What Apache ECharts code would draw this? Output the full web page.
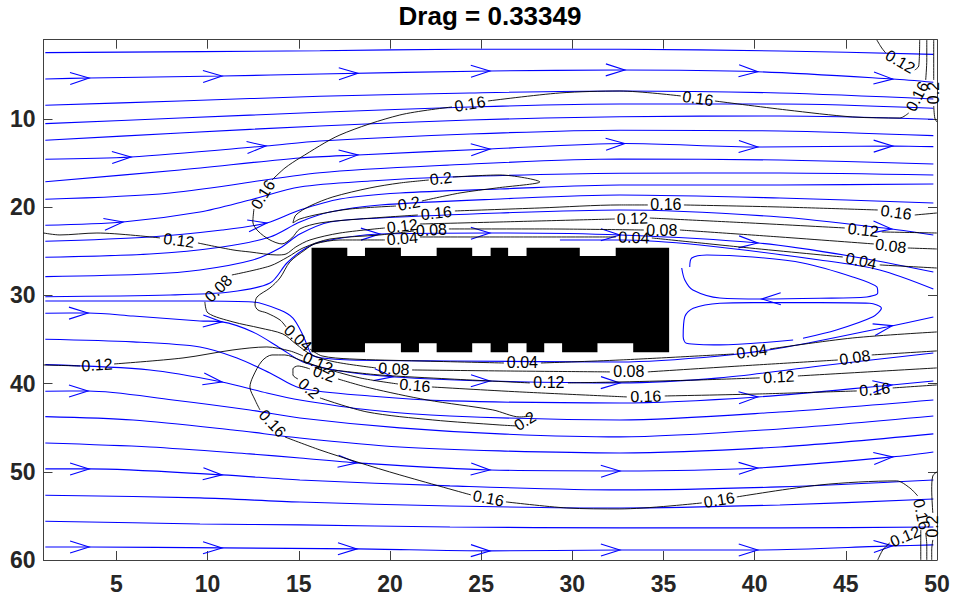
<!DOCTYPE html>
<html>
<head>
<meta charset="utf-8">
<script src="https://cdn.jsdelivr.net/npm/echarts@6/dist/echarts.min.js"></script>
<style>
  html, body { margin: 0; padding: 0; background: #fff; }
  #chart { width: 954px; height: 600px; }
</style>
</head>
<body>
<div id="chart"></div>
<script>
const FONT = '"Liberation Sans", Arial, Helvetica, sans-serif';

// Axis ticks
const xTicks = [5, 10, 15, 20, 25, 30, 35, 40, 45, 50];
const yTicks = [10, 20, 30, 40, 50, 60];
const titleText = 'Drag = 0.33349';

// Streamlines above the body, [x, y] in grid units (y grows downward)
const streamUpper = [
  [[1.1,2.47],[16.16,2.25],[23.84,2.09],[32.61,2.09],[41.38,2.28],[49.8,2.66]],
  [[1.1,5.46],[3.5,5.34],[10.79,5.12],[16.16,4.89],[25.48,4.55],[32.61,4.44],[40.12,4.63],[47.57,5.46],[49.8,5.83]],
  [[1.1,8.44],[8.48,7.95],[16.16,7.42],[24.38,7.04],[32.61,6.82],[41.38,7.04],[49.8,7.72]],
  [[1.1,10.52],[8.48,9.88],[16.16,9.23],[24.38,8.63],[32.61,8.29],[41.38,8.29],[49.8,8.78]],
  [[1.1,12.41],[8.48,11.58],[16.16,10.78],[24.38,10.10],[32.61,9.73],[41.38,9.65],[49.8,10.02]],
  [[1.1,14.56],[5.80,14.30],[13.20,13.05],[16.16,12.49],[24.38,11.69],[32.61,11.26],[41.38,11.35],[49.8,11.88]],
  [[1.1,17.10],[8.48,15.77],[15.06,14.41],[18.24,14.07],[25.48,13.39],[32.88,12.77],[40.17,13.17],[47.57,13.05],[49.8,13.13]],
  [[1.1,19.09],[7.94,18.38],[16.16,16.08],[23.29,15.21],[32.61,14.53],[41.38,14.64],[49.8,15.09]],
  [[1.1,22.04],[5.36,21.67],[9.58,20.54],[12.32,19.17],[15.06,17.70],[18.90,17.02],[23.29,16.57],[32.61,16.15],[41.38,16.11],[49.8,16.34]],
  [[1.1,23.86],[6.84,23.37],[10.79,22.58],[13.25,21.78],[15.06,20.31],[17.26,19.06],[20.54,18.38],[26.03,17.93],[32.61,17.47],[41.38,17.47],[49.8,17.36]],
  [[1.1,25.67],[6.84,25.30],[10.79,24.50],[13.42,23.37],[15.06,21.67],[16.71,20.54],[19.45,19.74],[26.03,19.06],[32.61,18.61],[41.38,18.95],[49.8,19.51]],
  [[1.1,27.87],[6.84,27.57],[9.58,27.11],[12.48,25.98],[13.97,24.62],[15.06,23.03],[16.71,21.67],[19.45,21.22],[26.03,20.65],[32.61,20.31],[41.38,21.10],[47.52,22.46],[49.8,23.14]],
  [[1.1,30.14],[7.94,29.95],[11.22,29.61],[13.42,28.59],[14.35,26.32],[15.23,24.84],[16.16,23.94],[19.45,23.03],[25.48,22.92],[32.61,23.14],[40.17,24.05],[45.22,25.52],[49.8,27.34]],
  [[29.32,23.71],[32.61,23.71],[37.0,24.28],[43.57,25.98],[46.86,27.11],[49.8,29.27]]
];

// Recirculation behind the body
const wakeLoops = [
  [[36.44,26.77],[36.55,25.75],[37.38,25.41],[39.90,25.64],[42.64,26.32],[45.38,27.90],[46.70,29.04],[46.75,29.72],[46.15,30.17],[43.57,30.32],[40.39,30.40],[38.09,30.29],[36.61,29.38],[36.17,28.25],[36.0,26.89]],
  [[42.65,34.85],[44.48,33.91],[46.49,32.41],[46.95,31.45],[46.31,30.89],[43.57,30.82],[39.92,30.82],[38.09,30.89],[36.63,31.45],[36.17,32.41],[36.08,34.67],[36.26,35.42],[38.09,35.61],[42.11,35.05]]
];

// Streamlines below the body
const streamLower = [
  [[1.1,30.63],[9.58,30.63],[12.48,30.74],[13.97,31.65],[14.68,32.56],[15.17,34.25],[15.45,35.61],[15.72,36.75],[16.27,37.09],[17.80,37.32],[23.29,37.43],[32.61,37.54],[38.09,36.86],[41.76,35.84],[47.25,33.57],[49.8,32.44]],
  [[1.1,32.02],[3.44,31.99],[5.91,32.33],[9.58,32.89],[10.79,33.0],[12.48,34.14],[13.97,35.95],[15.23,37.54],[17.26,38.56],[20.27,39.24],[25.48,39.70],[32.61,39.92],[38.09,39.35],[43.57,38.0],[49.8,36.52]],
  [[1.1,34.97],[5.91,35.27],[9.58,35.84],[11.61,37.09],[13.42,38.79],[15.06,40.49],[18.90,41.40],[23.29,41.96],[32.61,42.19],[40.17,41.51],[47.52,40.15],[49.8,39.70]],
  [[1.1,37.85],[6.84,38.45],[10.79,39.81],[13.25,41.06],[15.06,41.85],[18.90,42.99],[23.29,43.67],[32.61,44.12],[41.38,43.22],[49.8,41.85]],
  [[1.1,40.86],[3.44,40.83],[8.10,41.85],[12.32,42.99],[15.06,43.89],[20.54,45.02],[26.03,45.70],[32.61,46.04],[41.38,45.14],[49.8,43.67]],
  [[1.1,43.74],[5.91,44.12],[11.39,45.25],[15.06,46.16],[20.54,47.18],[26.03,47.63],[32.61,47.86],[41.38,47.18],[49.8,45.70]],
  [[1.1,46.73],[6.84,47.18],[12.32,47.97],[15.06,48.43],[18.19,48.99],[25.48,49.79],[32.61,49.90],[40.17,49.56],[47.57,48.31],[49.8,47.75]],
  [[1.1,49.67],[3.50,49.67],[10.79,50.35],[15.06,50.92],[23.29,51.60],[32.61,52.05],[41.38,51.71],[49.8,50.92]],
  [[1.1,52.66],[9.58,52.96],[15.06,53.43],[23.29,53.87],[32.61,54.10],[41.38,53.76],[49.8,53.08]],
  [[1.1,55.60],[9.58,55.91],[15.06,56.02],[23.29,56.25],[32.61,56.36],[41.38,56.36],[49.8,56.25]],
  [[1.1,58.52],[3.50,58.52],[10.79,58.63],[18.19,58.74],[25.48,58.97],[32.61,58.86],[40.17,58.86],[47.57,58.40],[49.8,58.29]]
];

// Direction arrows, placed near these points on the nearest streamline
const arrowSeeds = [
  [3.50,5.34],[10.79,5.12],[18.24,4.78],[25.48,4.55],[32.88,4.44],[40.17,4.63],[47.57,5.46],
  [5.80,14.30],[13.20,13.05],[18.24,14.07],[25.48,13.17],[32.88,12.77],[40.17,13.17],[47.57,12.94],
  [5.36,21.67],[13.25,21.78],[19.45,22.92],[25.48,22.92],[32.61,23.14],[40.17,24.05],[47.52,22.46],
  [3.44,31.99],[10.79,33.0],[40.39,30.40],[47.57,33.57],
  [3.44,40.83],[10.79,39.81],[20.16,39.35],[25.48,39.92],[32.61,40.15],[40.17,41.51],[47.52,40.15],
  [3.50,49.67],[10.79,50.35],[18.19,48.99],[25.48,49.79],[32.61,49.79],[40.17,49.56],[47.57,48.31],
  [3.50,58.52],[10.79,58.63],[18.19,58.74],[25.48,58.97],[32.61,58.86],[40.17,58.86],[47.57,58.40]
];

// Solid body outline (notched top and bottom walls)
const obstacleOutline = [
  [15.70,24.58],[17.66,24.58],[17.66,25.52],[18.63,25.52],[18.63,24.58],[20.60,24.58],[20.60,25.52],[22.56,25.52],[22.56,24.58],
  [24.51,24.58],[24.51,25.52],[25.52,25.52],[25.52,24.58],[26.48,24.58],[26.48,25.52],[27.49,25.52],[27.49,24.58],
  [30.41,24.58],[30.41,25.52],[32.38,25.52],[32.38,24.58],[35.31,24.58],
  [35.31,36.44],[33.34,36.44],[33.34,35.42],[31.38,35.42],[31.38,36.44],[29.44,36.44],[29.44,35.42],[28.46,35.42],[28.46,36.44],
  [27.49,36.44],[27.49,35.42],[26.48,35.42],[26.48,36.44],[25.52,36.44],[25.52,35.42],[24.51,35.42],[24.51,36.44],
  [22.56,36.44],[22.56,35.42],[21.59,35.42],[21.59,36.44],[20.60,36.44],[20.60,35.42],[18.63,35.42],[18.63,36.44],[15.70,36.44]
];

// Speed contours: each level is a list of pieces, a label sits in every gap between pieces
const level004 = [
  [[49.99,26.89],[46.86,26.54]],
  [[44.83,25.64],[39.73,24.62],[34.36,23.48]],
  [[32.39,23.37],[26.03,23.37],[21.64,23.37]],
  [[19.72,23.71],[17.26,23.71],[15.88,24.16],[15.34,24.84],[14.51,26.20],[13.97,28.02],[13.42,29.15],[12.71,30.17],[12.60,31.08],[12.76,31.65],[13.25,31.99],[13.97,32.78],[14.30,33.57]],
  [[15.61,36.07],[16.27,36.86],[17.80,37.20],[21.64,37.43],[26.25,37.66]],
  [[28.28,37.66],[32.61,37.32],[38.86,36.64]],
  [[40.83,36.07],[45.38,34.82],[49.99,34.14]]
];
const level008 = [
  [[49.99,24.73],[48.40,24.62]],
  [[46.53,24.16],[41.38,23.37],[35.90,22.58]],
  [[33.92,22.58],[28.22,22.46],[23.23,22.46]],
  [[21.31,22.69],[19.45,23.14],[16.71,23.60],[15.23,24.62],[14.40,25.64],[13.42,26.66],[11.33,27.68]],
  [[9.85,30.74],[10.02,31.99],[11.39,33.0],[12.87,33.69],[14.13,34.37],[14.84,35.50],[15.72,36.75],[16.98,37.54],[19.23,38.22]],
  [[21.21,38.45],[26.03,38.56],[32.06,38.67]],
  [[34.14,38.67],[39.18,38.0],[44.56,37.32]],
  [[46.42,36.75],[49.99,36.29]]
];
const level012Upper = [
  [[1.0,22.92],[1.90,23.14],[3.93,22.92],[7.39,23.48]],
  [[9.47,24.05],[11.39,24.84],[12.32,25.07],[13.80,25.41],[14.30,25.30],[14.84,24.50],[15.61,23.71],[17.26,22.92],[19.72,22.35]],
  [[21.64,21.90],[26.03,21.67],[32.33,21.33]],
  [[34.25,21.22],[39.73,21.78],[44.94,22.35]],
  [[46.97,22.80],[49.99,22.92]]
];
const level012Lower = [
  [[1.0,37.88],[3.0,38.0]],
  [[4.87,37.77],[8.65,37.09],[11.39,36.18],[13.25,35.84],[14.51,36.29],[15.23,36.86]],
  [[16.87,38.45],[19.45,39.02],[23.29,39.47],[27.67,39.92]],
  [[29.76,39.92],[32.61,39.81],[37.0,39.58],[40.28,39.35]],
  [[42.37,39.13],[49.99,38.22]]
];
const level012TopRight = [
  [[46.70,1.03],[46.97,1.94],[47.19,2.51]],
  [[48.78,4.44],[49.0,3.98],[49.05,1.03]]
];
const level012BottomRight = [
  [[46.75,59.99],[47.03,58.86],[47.41,58.06]],
  [[49.11,56.59],[49.11,58.29],[49.11,59.99]]
];
const level016Upper = [
  [[49.44,1.03],[49.44,3.30],[49.38,5.57]],
  [[48.45,9.31],[47.96,9.88],[45.38,9.76],[41.76,8.97],[37.82,7.95]],
  [[35.95,7.38],[32.61,6.82],[29.32,7.04],[25.37,7.95]],
  [[23.40,8.63],[20.54,9.54],[17.26,11.80],[15.06,14.41],[14.24,15.55],[13.53,16.91]],
  [[12.54,20.20],[12.48,21.67],[12.76,22.69],[13.42,23.71],[14.08,24.16],[14.62,23.48],[15.06,22.46],[16.16,21.78],[18.35,21.33],[21.53,20.88]],
  [[23.56,20.42],[28.22,20.08],[32.61,19.74],[34.14,19.74]],
  [[36.12,19.74],[41.38,19.97],[46.75,20.31]],
  [[48.78,20.88],[49.99,20.65]]
];
const level016Lower = [
  [[49.99,40.15],[47.57,40.49]],
  [[45.60,40.83],[40.28,41.17],[35.07,41.40]],
  [[32.99,41.51],[27.12,40.94],[22.30,40.38]],
  [[20.44,40.04],[18.35,39.35],[16.16,38.11],[15.06,37.32],[14.24,36.75],[13.53,36.75],[12.98,37.43],[12.48,39.24],[12.32,40.38],[12.60,41.85],[12.87,42.98]],
  [[14.24,46.05],[16.16,47.52],[18.19,48.88],[20.54,50.35],[24.44,52.62]],
  [[26.36,53.41],[29.70,54.10],[32.61,54.21],[37.10,53.53]],
  [[39.02,52.85],[43.57,51.49],[47.79,51.03],[48.51,51.83],[48.94,52.73]],
  [[49.38,56.93],[49.44,58.29],[49.44,59.99]]
];
const level02Upper = [
  [[23.45,16.57],[26.03,16.34],[28.22,17.13],[25.86,17.81],[23.84,18.38],[21.75,19.29]],
  [[20.33,19.86],[17.80,20.20],[16.16,20.76],[15.06,21.33],[14.68,21.78],[14.84,20.88],[15.61,19.86],[16.87,18.83],[18.90,17.81],[20.54,17.25],[22.13,16.91]]
];
const level02Lower = [
  [[27.84,43.66],[27.12,43.78],[25.64,42.98],[22.03,41.85],[18.90,40.49],[17.15,39.47]],
  [[15.61,38.33],[14.95,38.0],[14.68,38.33],[14.68,39.02],[14.95,39.47]],
  [[16.16,41.62],[18.74,43.21],[22.35,44.12],[26.03,44.69],[26.96,44.80]]
];
const level02TopRight = [
  [[49.82,1.03],[49.82,5.57]],
  [[49.82,8.52],[49.88,9.88],[49.99,10.33]]
];
const level02BottomRight = [
  [[49.99,50.01],[49.77,50.47],[49.71,52.05],[49.77,54.66]],
  [[49.77,57.72],[49.71,58.86],[49.71,59.99]]
];

const contourSets = [
  { level: 0.04, pieces: level004 },
  { level: 0.08, pieces: level008 },
  { level: 0.12, pieces: level012Upper },
  { level: 0.12, pieces: level012Lower },
  { level: 0.12, pieces: level012TopRight },
  { level: 0.12, pieces: level012BottomRight },
  { level: 0.16, pieces: level016Upper },
  { level: 0.16, pieces: level016Lower },
  { level: 0.2, pieces: level02Upper, closed: true },
  { level: 0.2, pieces: level02Lower, closed: true },
  { level: 0.2, pieces: level02TopRight },
  { level: 0.2, pieces: level02BottomRight }
];

// Labels go in the gap between the end of one piece and the start of the next
const contourLabels = [];
contourSets.forEach(set => {
  const p = set.pieces;
  const n = p.length;
  const gaps = set.closed ? n : n - 1;
  for (let i = 0; i < gaps; i++) {
    const from = p[i][p[i].length - 1];
    const to = p[(i + 1) % n][0];
    contourLabels.push({ text: String(set.level), from, to });
  }
});

const allStreams = streamUpper.concat(wakeLoops, streamLower);

function nearestOnStreams(api, p) {
  let best = null;
  allStreams.forEach(line => {
    const px = line.map(pt => api.coord(pt));
    for (let i = 0; i < px.length - 1; i++) {
      const a = px[i], b = px[i + 1];
      const dx = b[0] - a[0], dy = b[1] - a[1];
      const len2 = dx * dx + dy * dy;
      if (!len2) continue;
      let t = ((p[0] - a[0]) * dx + (p[1] - a[1]) * dy) / len2;
      t = Math.max(0, Math.min(1, t));
      const q = [a[0] + t * dx, a[1] + t * dy];
      const d = (q[0] - p[0]) ** 2 + (q[1] - p[1]) ** 2;
      if (!best || d < best.d) {
        const L = Math.sqrt(len2);
        best = { d, q, ux: dx / L, uy: dy / L };
      }
    }
  });
  return best;
}

const BLUE = '#0000ff';
const series = [];

function addLine(data, color, width, z) {
  series.push({
    type: 'line', data, showSymbol: false, symbol: 'none', smooth: 0.3,
    lineStyle: { color, width }, silent: true, animation: false, z, clip: true
  });
}

allStreams.forEach(s => addLine(s, BLUE, 1.1, 2));
contourSets.forEach(set => set.pieces.forEach(pc => addLine(pc, '#000000', 0.9, 3)));

// arrow heads
series.push({
  type: 'custom', z: 2, silent: true, animation: false,
  data: arrowSeeds,
  renderItem(params, api) {
    const p = api.coord([api.value(0), api.value(1)]);
    const n = nearestOnStreams(api, p);
    const L = 19, W = 6;
    const tip = n.q;
    const bx = tip[0] - n.ux * L, by = tip[1] - n.uy * L;
    return {
      type: 'polyline',
      shape: { points: [[bx - n.uy * W, by + n.ux * W], tip, [bx + n.uy * W, by - n.ux * W]] },
      style: { stroke: BLUE, lineWidth: 1.1, fill: null }
    };
  }
});

// contour labels
series.push({
  type: 'custom', z: 4, silent: true, animation: false, clip: false,
  data: contourLabels.map((l, i) => [(l.from[0] + l.to[0]) / 2, (l.from[1] + l.to[1]) / 2, i]),
  renderItem(params, api) {
    const item = contourLabels[api.value(2)];
    const a = api.coord(item.from), b = api.coord(item.to);
    let ang = Math.atan2(b[1] - a[1], b[0] - a[0]);
    if (ang >= Math.PI / 2) ang -= Math.PI;
    else if (ang < -Math.PI / 2) ang += Math.PI;
    return {
      type: 'text',
      x: (a[0] + b[0]) / 2, y: (a[1] + b[1]) / 2,
      rotation: -ang,
      style: { text: item.text, fill: '#000', font: '16px ' + FONT, align: 'center', verticalAlign: 'middle' }
    };
  }
});

// solid body
series.push({
  type: 'custom', z: 5, silent: true, animation: false,
  data: [[25, 30]],
  renderItem(params, api) {
    return {
      type: 'polygon',
      shape: { points: obstacleOutline.map(pt => api.coord(pt)) },
      style: { fill: '#000', stroke: null }
    };
  }
});

const axisColor = '#404040';
function xAxis(pos, labels) {
  return {
    type: 'value', min: 1, max: 50, position: pos,
    axisLine: { show: true, onZero: false, lineStyle: { color: axisColor, width: 1 } },
    axisTick: { show: true, inside: true, length: 9, customValues: xTicks, lineStyle: { color: axisColor } },
    axisLabel: { show: labels, customValues: xTicks, fontSize: 23, fontWeight: 'bold', color: '#262626', fontFamily: FONT, margin: 12 },
    splitLine: { show: false }
  };
}
function yAxis(pos, labels) {
  return {
    type: 'value', min: 1, max: 60, inverse: true, position: pos,
    axisLine: { show: true, onZero: false, lineStyle: { color: axisColor, width: 1 } },
    axisTick: { show: true, inside: true, length: 9, customValues: yTicks, lineStyle: { color: axisColor } },
    axisLabel: { show: labels, customValues: yTicks, fontSize: 23, fontWeight: 'bold', color: '#262626', fontFamily: FONT, margin: 8 },
    splitLine: { show: false }
  };
}

const chart = echarts.init(document.getElementById('chart'), null, { renderer: 'svg' });
chart.setOption({
  animation: false,
  backgroundColor: '#ffffff',
  title: {
    text: titleText, left: 490, top: 3, textAlign: 'center', padding: 0,
    textStyle: { fontSize: 26, fontWeight: 'bold', color: '#000', fontFamily: FONT }
  },
  grid: { left: 43.5, right: 17, top: 39.7, bottom: 40, containLabel: false, outerBoundsMode: 'none' },
  xAxis: [xAxis('bottom', true), xAxis('top', false)],
  yAxis: [yAxis('left', true), yAxis('right', false)],
  series
});
</script>
</body>
</html>
